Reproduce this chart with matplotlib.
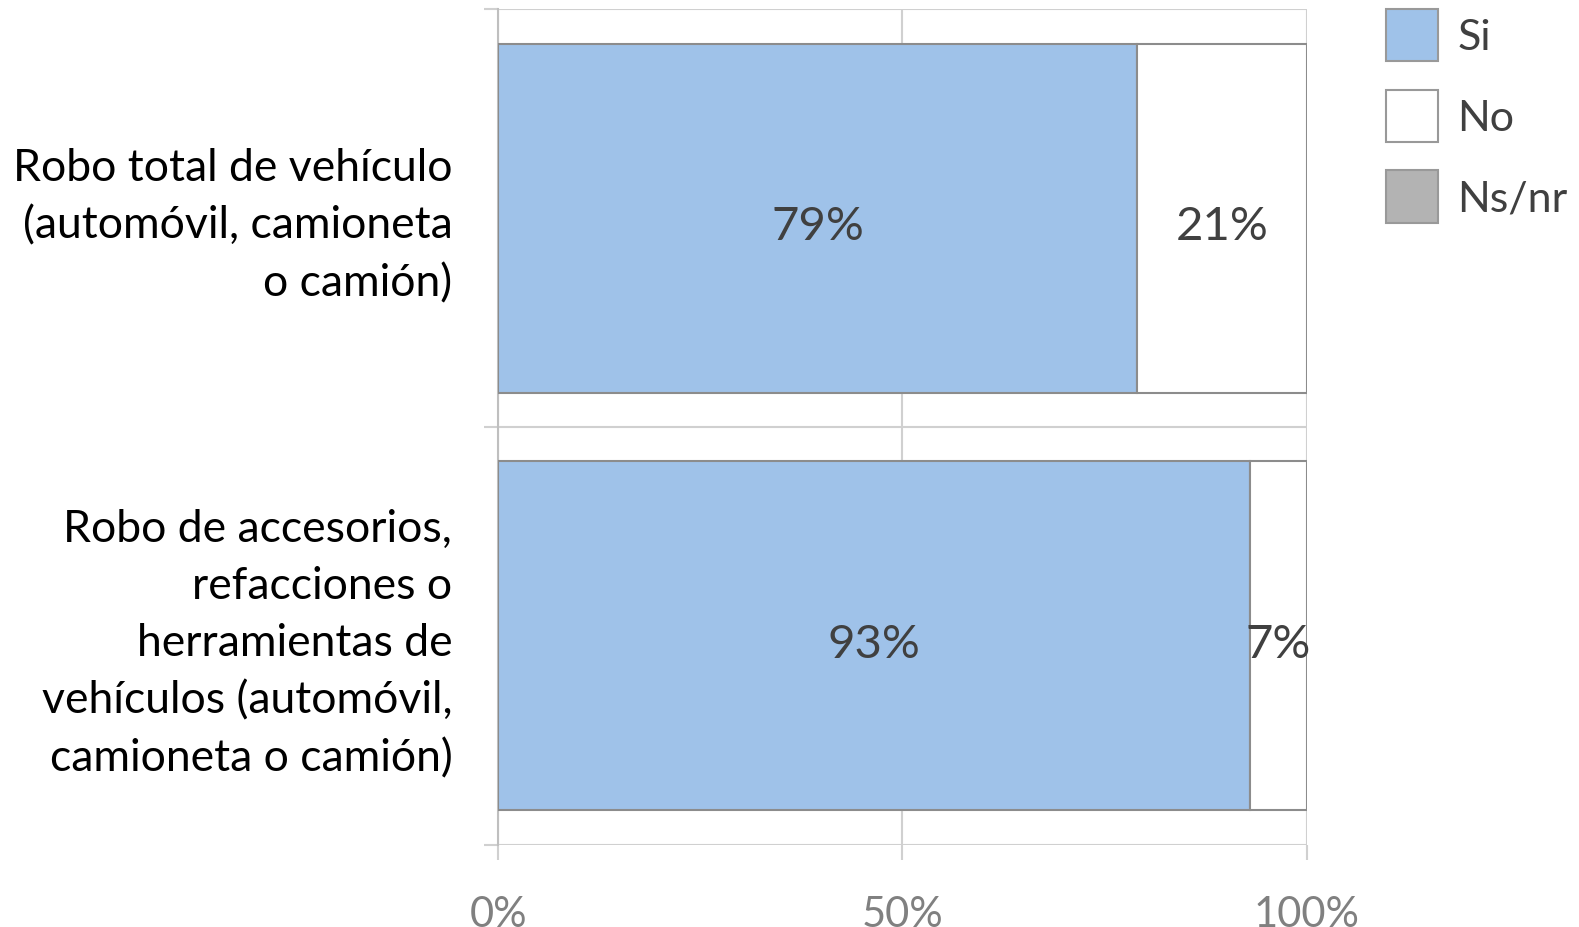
import matplotlib
matplotlib.use("Agg")
import matplotlib.pyplot as plt
import matplotlib.transforms as mtransforms
from matplotlib.patches import Patch
import numpy as np

plt.rcParams['font.family'] = ['Lato', 'DejaVu Sans']

categories = [
    "Robo total de vehículo\n(automóvil, camioneta\no camión)",
    "Robo de accesorios,\nrefacciones o\nherramientas de\nvehículos (automóvil,\ncamioneta o camión)",
]
series_names = ["Si", "No", "Ns/nr"]
si = [79, 93]
no = [21, 7]
nsnr = [0, 0]
xtick_labels = ["0%", "50%", "100%"]
xticks = [0, 50, 100]

colors = ["#9fc2e9", "#ffffff", "#b3b3b3"]
edge = "#8c8c8c"
grid_c = "#d0d0d0"

fig = plt.figure(figsize=(15.79, 9.28), dpi=100)
ax = fig.add_axes([0.3155, 0.0884, 0.512, 0.9008])

y = np.arange(len(categories))
h = 0.835
left = np.zeros(len(categories))
for name, vals, col in zip(series_names, [si, no, nsnr], colors):
    vals = np.array(vals, dtype=float)
    mask = vals > 0
    ax.barh(y[mask], vals[mask], left=left[mask], height=h, color=col,
            edgecolor=edge, linewidth=1.5, zorder=3)
    for yi, v, l in zip(y, vals, left):
        if v > 0:
            ax.text(l + v / 2, yi + 0.02, f"{int(v)}%", ha="center", va="center",
                    fontsize=34, color="#404040", zorder=4)
    left = left + vals

ax.set_xlim(0, 100)
ax.set_ylim(1.5, -0.5)

for s in ["top", "right", "bottom"]:
    ax.spines[s].set_visible(False)
ax.spines["left"].set_color("#bfbfbf")
ax.spines["left"].set_linewidth(1.5)

ax.set_xticks(xticks)
ax.set_xticklabels(xtick_labels)
ax.tick_params(axis="x", length=11, width=1.5, color=grid_c, labelsize=30,
               labelcolor="#808080", pad=25)
ax.xaxis.grid(True, color=grid_c, linewidth=1.5, zorder=0)

ax.set_yticks(y)
ax.set_yticklabels(categories, fontsize=32, color="#000000", ha="right",
                   multialignment="right", linespacing=1.49)
ax.tick_params(axis="y", which="major", length=0, pad=33)
ax.set_yticks([-0.5, 0.5, 1.5], minor=True)
ax.tick_params(axis="y", which="minor", length=10, width=1.5, color=grid_c)
ax.yaxis.grid(True, which="minor", color=grid_c, linewidth=1.5, zorder=0)
ax.set_axisbelow(True)

offset = mtransforms.ScaledTranslation(0, 5 / 100, fig.dpi_scale_trans)
for lab in ax.get_yticklabels():
    lab.set_transform(lab.get_transform() + offset)

handles = [Patch(facecolor=c, edgecolor="#999999", linewidth=1.5) for c in colors]
leg = fig.legend(handles, series_names, loc="upper left",
                 bbox_to_anchor=(0.853, 1.031), frameon=False, fontsize=31,
                 handlelength=1.21, handleheight=1.49, handletextpad=0.45,
                 labelspacing=0.66, labelcolor="#404040")

fig.savefig("out.png", dpi=100)
